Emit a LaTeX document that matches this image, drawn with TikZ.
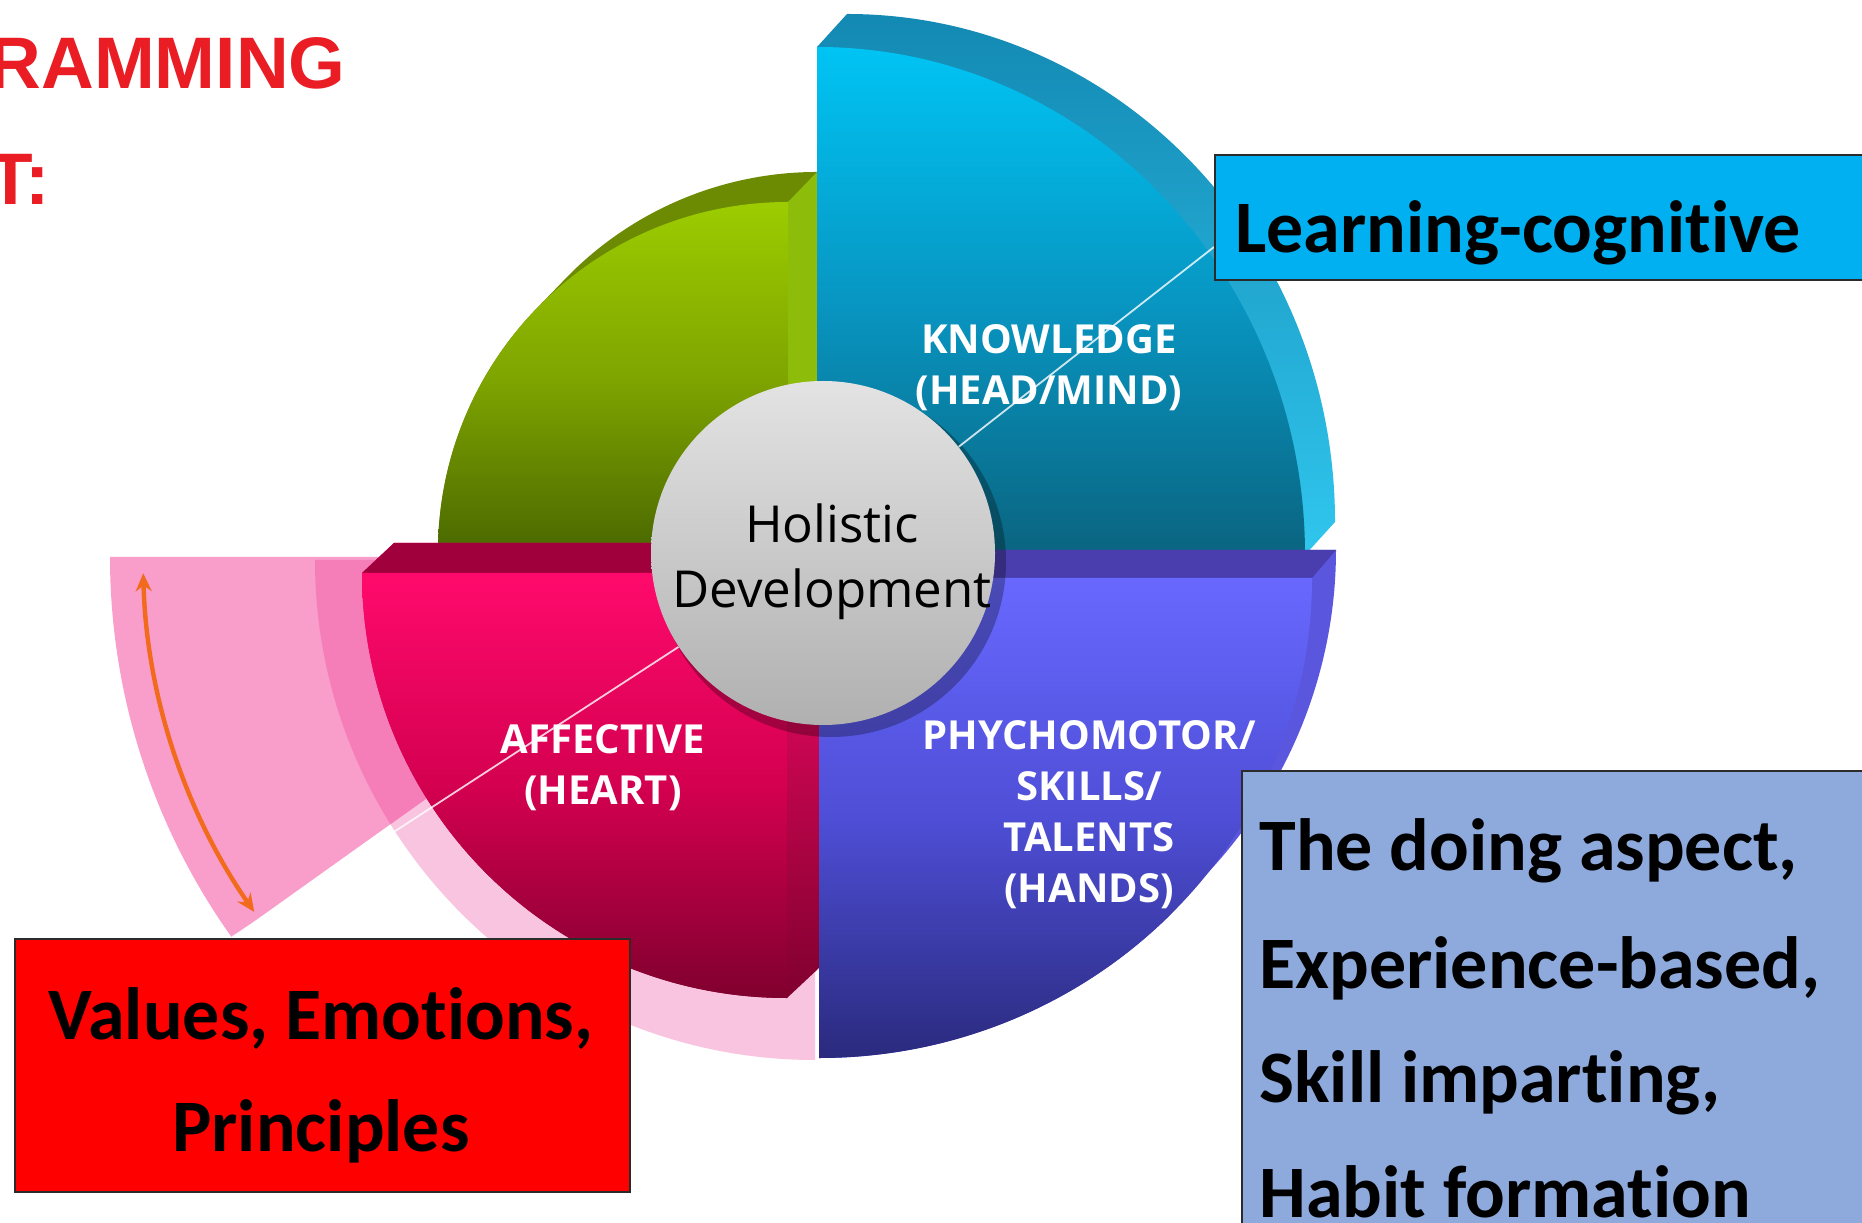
\documentclass[tikz,border=0pt]{standalone}
\usepackage{fontspec}
\setmainfont{Carlito}[Ligatures={NoCommon,NoContextual}]
\newfontfamily\arialfont{Liberation Sans}
\newfontfamily\osfont{Open Sans}[Ligatures={NoCommon}]
\usetikzlibrary{calc,arrows.meta}
\definecolor{grnT}{HTML}{9CCC00}
\definecolor{grnM}{HTML}{7FA500}
\definecolor{grnB}{HTML}{4A6800}
\definecolor{grnBand}{HTML}{6C8B02}
\definecolor{grnSide}{HTML}{8DBD0A}
\definecolor{bluT}{HTML}{00C4F4}
\definecolor{bluM}{HTML}{0896C2}
\definecolor{bluB}{HTML}{0A6480}
\definecolor{bluBandD}{HTML}{1389B3}
\definecolor{bluBandL}{HTML}{30C6EE}
\definecolor{redT}{HTML}{FF0A6C}
\definecolor{redM}{HTML}{D40050}
\definecolor{redB}{HTML}{80002E}
\definecolor{redBand}{HTML}{A0003C}
\definecolor{purT}{HTML}{6868FF}
\definecolor{purM}{HTML}{4E4ED6}
\definecolor{purB}{HTML}{2A2A7E}
\definecolor{purBand}{HTML}{4A3EAE}
\definecolor{purSide}{HTML}{5A56DE}
\definecolor{pinkPale}{HTML}{F9C4DF}
\definecolor{pinkFan}{HTML}{F99DCB}
\definecolor{pinkMid}{HTML}{F57DB8}
\definecolor{arrowOr}{HTML}{F26A1B}
\definecolor{lcBlue}{HTML}{00B0F0}
\definecolor{doBlue}{HTML}{8EAADC}
\definecolor{titleRed}{HTML}{EA1C24}
\definecolor{boxline}{HTML}{2B2B2B}
\begin{document}
\begin{tikzpicture}[x=0.5pt,y=0.5pt,
  facelab/.style={text=white, font=\osfont\bfseries\fontsize{20pt}{25.5pt}\selectfont, align=center, inner sep=0},
  boxtxt/.style={font=\bfseries\fontsize{37pt}{44pt}\selectfont, text=black, inner sep=0, anchor=base west},
  obox/.style={draw=boxline, line width=0.8pt, inner sep=0, anchor=south west},
  wline/.style={draw=white, line width=0.9pt, opacity=0.8},
  titletxt/.style={font=\arialfont\bfseries\fontsize{36.5pt}{40pt}\selectfont, text=titleRed, anchor=base east, inner sep=0}
]
\path[use as bounding box] (0,0) rectangle (1862,1222);
\clip (0,0) rectangle (1862,1222);
\fill[white] (0,0) rectangle (1862,1222);

% title fragments
\node[titletxt] (t1) at (346,1133) {RAMMING};
\node[titletxt] (t2) at (50,1017) {T:};

% pink background pieces
\fill[pinkPale] (815,662) -- (315,662) arc[start angle=180,end angle=270,radius=500] -- cycle;
\fill[pinkFan] (765,665) -- (110,665) arc[start angle=180,end angle=215.5,radius=655] -- cycle;
\begin{scope}
  \clip (815,662) -- (315,662) arc[start angle=180,end angle=270,radius=500] -- cycle;
  \fill[pinkMid] (765,665) -- (110,665) arc[start angle=180,end angle=215.5,radius=655] -- cycle;
\end{scope}
\draw[arrowOr, line width=2.2pt, {Stealth[length=9pt,width=8pt]}-{Stealth[length=9pt,width=8pt]}]
  ($(765,665)+(181.5:622)$) arc[start angle=181.5, end angle=214.8, radius=622];

% green quadrant
\fill[grnBand] (540.5,917.5) -- (569.5,947.5) arc[start angle=135,end angle=90,radius=350] -- (817,700) -- (788,670) -- (438,670) arc[start angle=180,end angle=135,radius=350] -- cycle;
\fill[grnSide] (788,1020) -- (817,1050) -- (817,700) -- (788,670) -- cycle;
\shade[top color=grnT, bottom color=grnB, middle color=grnM] (788,670) -- (788,1020) arc[start angle=90,end angle=180,radius=350] -- cycle;

% blue quadrant
\shade[top color=bluBandD, bottom color=bluBandL] (817,667) -- (1305,667) -- (1335,700) arc[start angle=0,end angle=90,x radius=488,y radius=508] -- (817,1175) -- cycle;
\shade[top color=bluT, bottom color=bluB, middle color=bluM] (817,667) -- (1305,667) arc[start angle=0,end angle=90,x radius=488,y radius=508] -- cycle;

% red quadrant
\shade[top color=redT, bottom color=redB] (362,649) -- (394,679) -- (819,679) -- (819,254) -- (787,224) arc[start angle=270,end angle=180,radius=425] -- cycle;
\fill[redBand] (362,649) -- (394,679) -- (819,679) -- (787,649) -- cycle;
\shade[top color=redT, bottom color=redB, middle color=redM] (787,649) -- (362,649) arc[start angle=180,end angle=270,radius=425] -- cycle;

% purple quadrant
\fill[purSide] (819,164) arc[start angle=270,end angle=315,x radius=493,y radius=480] -- (1191.6,332.6) arc[start angle=315,end angle=360,x radius=493,y radius=480] -- (843,672) -- (819,644) -- cycle;
\fill[purBand] (819,644) -- (843,672) -- (1336,672) -- (1312,644) -- cycle;
\shade[top color=purT, bottom color=purB, middle color=purM] (819,644) -- (1312,644) arc[start angle=0,end angle=-90,x radius=493,y radius=480] -- cycle;

% centre circle
\fill[black, opacity=0.28] (831,660) circle[radius=175];
\node[circle, minimum size=172pt, inner sep=0, top color=gray!22, bottom color=gray!62] (holistic) at (823,669) {};
\node[font=\osfont\fontsize{25.5pt}{32.5pt}\selectfont, align=center, inner sep=0] (holtxt) at (832,660) {Holistic\\Development};

% thin white connectors
\coordinate (fantip) at ($(765,665)+(215.5:655)$);
\coordinate (lcpt) at (1214,975);
\draw[wline] (holistic) -- (fantip);
\draw[wline] (holistic) -- (lcpt);

% quadrant labels
\node[facelab] (know) at (1049,854) {KNOWLEDGE\\(HEAD/MIND)};
\node[facelab] (aff) at (603,454) {AFFECTIVE\\(HEART)};
\node[facelab] (psy) at (1089,407) {PHYCHOMOTOR/\\SKILLS/\\TALENTS\\(HANDS)};

% boxes
\node[obox, fill=lcBlue, minimum width=333pt, minimum height=62.5pt] (learn) at (1214,941) {};
\node[boxtxt] (learnT) at (1235,969) {Learning-cognitive};

\node[obox, fill=doBlue, minimum width=350pt, minimum height=240pt] (doing) at (1241,-30) {};
\node[boxtxt] (d1) at (1259,352) {The doing aspect,};
\node[boxtxt] (d2) at (1259,234) {Experience-based,};
\node[boxtxt] (d3) at (1259,120) {Skill imparting,};
\node[boxtxt] (d4) at (1259,5) {Habit formation};

\node[obox, fill=red, minimum width=307.5pt, minimum height=126.5pt] (values) at (14,29) {};
\node[boxtxt, anchor=base] (v1) at (321,183) {Values, Emotions,};
\node[boxtxt, anchor=base] (v2) at (321,71) {Principles};
\end{tikzpicture}
\end{document}
